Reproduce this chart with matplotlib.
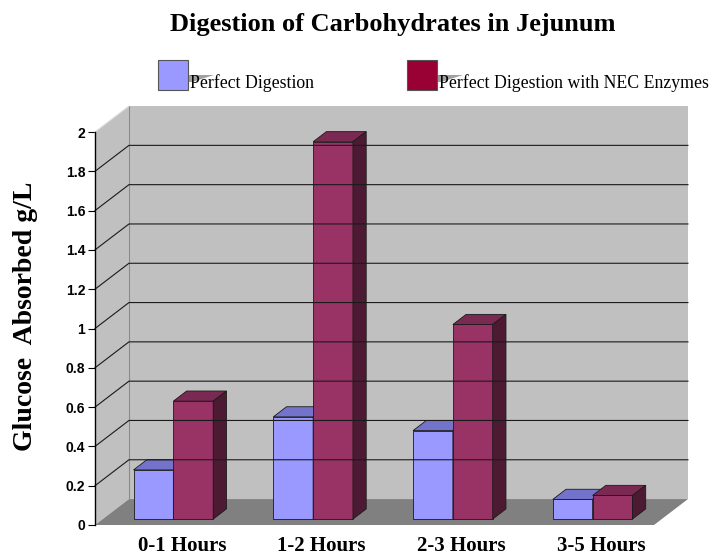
import numpy as np
import matplotlib.pyplot as plt
from matplotlib.patches import Polygon

categories = ["0-1 Hours", "1-2 Hours", "2-3 Hours", "3-5 Hours"]
series_names = ["Perfect Digestion", "Perfect Digestion with NEC Enzymes"]
perfect = [0.25, 0.52, 0.45, 0.10]
nec = [0.60, 1.92, 0.99, 0.12]
yticks = [0, 0.2, 0.4, 0.6, 0.8, 1.0, 1.2, 1.4, 1.6, 1.8, 2.0]
ytick_labels = ["0", "0.2", "0.4", "0.6", "0.8", "1", "1.2", "1.4", "1.6", "1.8", "2"]

# colours: front, top, side
blue = ("#9999ff", "#7373cc", "#5c5ca3")
red = ("#993366", "#7a2952", "#4d1a33")
legend_colors = ["#9999ff", "#990033"]

W, H = 714, 556
fig = plt.figure(figsize=(W / 100, H / 100), dpi=100)
ax = fig.add_axes([95 / W, 31 / H, 559 / W, 393 / H])
ax.set_xlim(0, 4)
ax.set_ylim(0, 2)

# depth offset of the 3d box, in data units
DX, DY = 0.243, 0.132


def face(pts, color, **kw):
    ax.add_patch(Polygon(pts, closed=True, facecolor=color, clip_on=False, **kw))


ymax = yticks[-1]
# walls and floor
face([(DX, DY), (4 + DX, DY), (4 + DX, ymax + DY), (DX, ymax + DY)], "#c0c0c0", edgecolor="none")
face([(0, 0), (DX, DY), (DX, ymax + DY), (0, ymax)], "#c0c0c0", edgecolor="none")
face([(0, 0), (4, 0), (4 + DX, DY), (DX, DY)], "#808080", edgecolor="none")
ax.plot([DX, DX], [DY, ymax + DY], color="#8a8a8a", lw=0.8, clip_on=False)
ax.plot([0, DX], [ymax, ymax + DY], color="#dcdcdc", lw=0.8, clip_on=False)

for v in yticks[1:-1]:
    ax.plot([0, DX, 4 + DX], [v, v + DY, v + DY], color="#1a1a1a", lw=0.8, clip_on=False)

# bars
w = 0.285
z0, z1 = 0.23, 0.62
for i in range(len(categories)):
    for j, (vals, cols) in enumerate([(perfect, blue), (nec, red)]):
        v = vals[i]
        x0 = i + 0.22 + j * w
        fx, fy = x0 + z0 * DX, z0 * DY
        bx, by = x0 + z1 * DX, z1 * DY
        kw = dict(edgecolor="#1a1a1a", linewidth=0.6)
        face([(fx, fy), (fx + w, fy), (fx + w, fy + v), (fx, fy + v)], cols[0], **kw)
        face([(fx, fy + v), (fx + w, fy + v), (bx + w, by + v), (bx, by + v)], cols[1], **kw)
        face([(fx + w, fy), (bx + w, by), (bx + w, by + v), (fx + w, fy + v)], cols[2], **kw)

# axes styling
for s in ["top", "right", "bottom"]:
    ax.spines[s].set_visible(False)
ax.spines["left"].set_linewidth(1.0)
ax.set_yticks(yticks)
ax.set_yticklabels(ytick_labels, fontfamily="Liberation Sans", fontweight="bold", fontsize=10)
ax.tick_params(axis="y", direction="out", length=5, width=0.8, pad=2)
ax.set_xticks([i + 0.5 + 0.5 * DX for i in range(len(categories))])
ax.set_xticklabels(categories, fontfamily="Liberation Serif", fontweight="bold", fontsize=15)
ax.tick_params(axis="x", length=0, pad=8)
ax.patch.set_visible(False)

ax.set_ylabel("Glucose  Absorbed g/L", fontfamily="Liberation Serif", fontweight="bold", fontsize=20)
ax.yaxis.set_label_coords(-0.102, 0.53)

fig.text(393 / W, 1 - 24 / H, "Digestion of Carbohydrates in Jejunum", ha="center", va="center",
         fontfamily="Liberation Serif", fontweight="bold", fontsize=19)

# legend with shadow wedges
for k, (name, col) in enumerate(zip(series_names, legend_colors)):
    x = [158, 407][k]
    sq = plt.Rectangle((x / W, 1 - 90 / H), 30 / W, 30 / H, transform=fig.transFigure,
                       facecolor=col, edgecolor="#555555", lw=0.8)
    sh = Polygon([((x + 30) / W, 1 - 75 / H), ((x + 56) / W, 1 - 75 / H),
                  ((x + 34) / W, 1 - 82 / H), ((x + 30) / W, 1 - 82 / H)],
                 closed=True, transform=fig.transFigure, facecolor="#a0a0a0", edgecolor="none")
    fig.add_artist(sh)
    fig.add_artist(sq)
    fig.text((x + 32) / W, 1 - 88 / H, name, ha="left", va="baseline",
             fontfamily="Liberation Serif", fontsize=12.8)

fig.savefig("out.png", dpi=100)
